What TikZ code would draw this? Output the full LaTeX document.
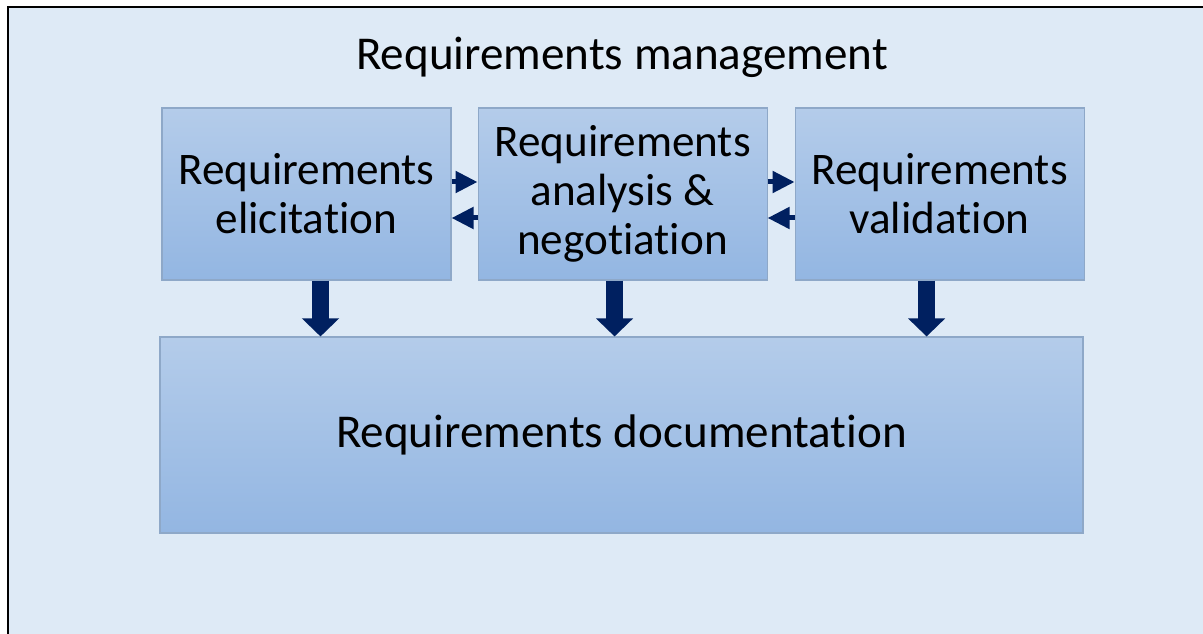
\documentclass[tikz,border=0pt]{standalone}
\usepackage{fontspec}
\setmainfont{Carlito}[Ligatures=NoCommon]
\usepackage{tikz}
\usetikzlibrary{arrows.meta, positioning}
\definecolor{panelbg}{HTML}{DEEAF6}
\definecolor{boxtop}{HTML}{B4CCEA}
\definecolor{boxbot}{HTML}{93B6E2}
\definecolor{boxline}{HTML}{8EA8C8}
\definecolor{navy}{HTML}{002060}
\tikzstyle{stage} = [rectangle, minimum width=5.78cm, minimum height=3.44cm, align=center, draw=boxline, line width=0.6pt, top color=boxtop, bottom color=boxbot, font=\fontsize{25.7}{28}\selectfont]
\tikzstyle{smallarrow} = [navy, line width=0.1cm, -{Triangle[length=0.44cm,width=0.42cm]}]
\tikzstyle{bigarrow} = [navy, line width=0.34cm, -{Triangle[length=0.36cm,width=0.72cm]}]

\begin{document}
\begin{tikzpicture}
\useasboundingbox (0,0) rectangle (24.06,-12.68);
\fill[white] (0,0) rectangle (24.06,-12.68);
\draw[fill=panelbg, line width=1.3pt] (0.16,-0.14) rectangle (24.4,-13.0);

\node (title) at (12.44,-1.14) {\fontsize{26.8}{30}\selectfont Requirements management};

\node (elicit) [stage] at (6.13,-3.88) {Requirements\\elicitation};
\node (analysis) [stage, right=0.52cm of elicit] {Requirements\\analysis \&\\negotiation};
\node (valid) [stage, right=0.54cm of analysis] {Requirements\\validation};
\node (docs) [stage, minimum width=18.46cm, minimum height=3.92cm, font=\fontsize{26.8}{30}\selectfont] at (12.43,-8.7) {Requirements documentation};

\draw [smallarrow] ([yshift=0.24cm]elicit.east) -- ([yshift=0.24cm]analysis.west);
\draw [smallarrow] ([yshift=-0.48cm]analysis.west) -- ([yshift=-0.48cm]elicit.east);
\draw [smallarrow] ([yshift=0.24cm]analysis.east) -- ([yshift=0.24cm]valid.west);
\draw [smallarrow] ([yshift=-0.48cm]valid.west) -- ([yshift=-0.48cm]analysis.east);

\draw [bigarrow] ([xshift=0.28cm]elicit.south) -- ([xshift=0.28cm]elicit.south |- docs.north);
\draw [bigarrow] ([xshift=-0.16cm]analysis.south) -- ([xshift=-0.16cm]analysis.south |- docs.north);
\draw [bigarrow] ([xshift=-0.26cm]valid.south) -- ([xshift=-0.26cm]valid.south |- docs.north);

\end{tikzpicture}
\end{document}
